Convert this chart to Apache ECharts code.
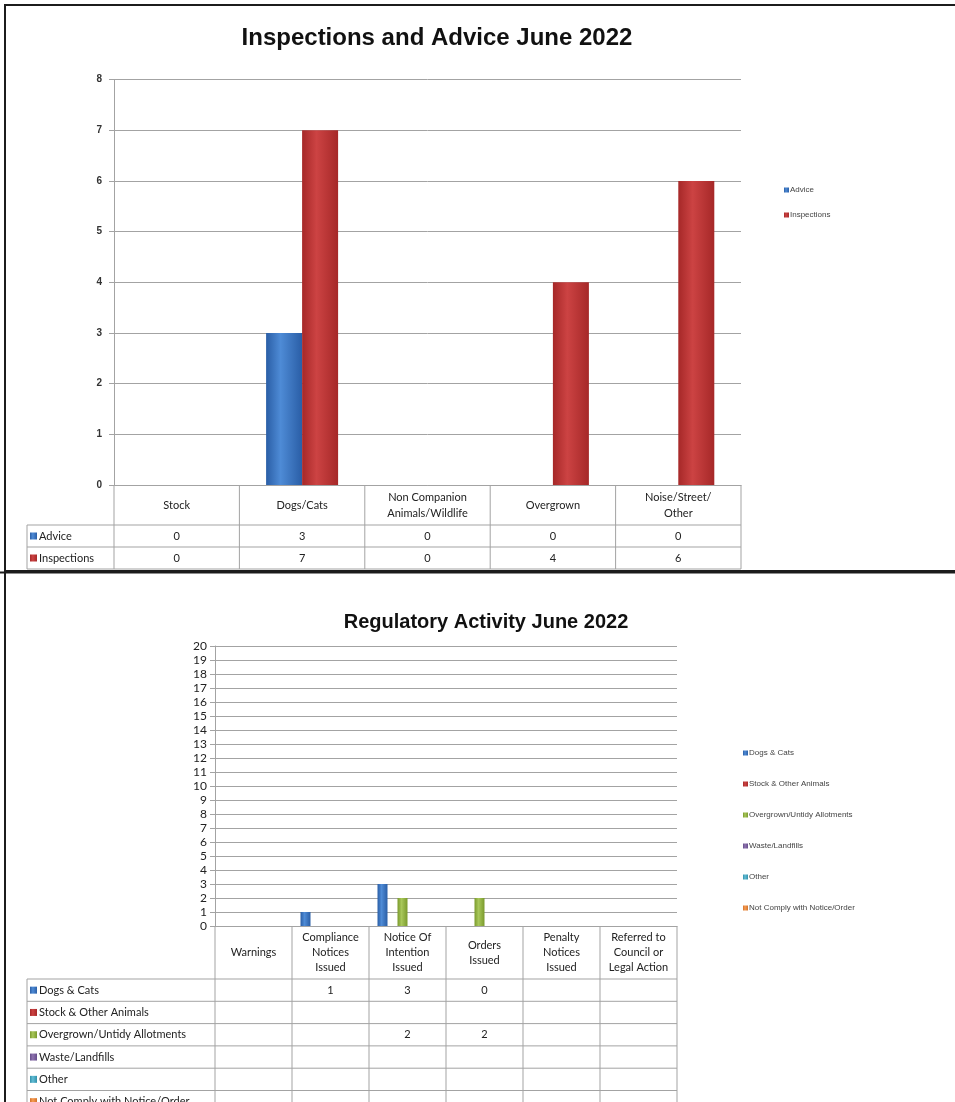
<!DOCTYPE html>
<html>
<head>
<meta charset="utf-8">
<title>Inspections and Regulatory Activity June 2022</title>
<script src="https://cdn.jsdelivr.net/npm/echarts@6/dist/echarts.min.js"></script>
<style>
  html, body { margin: 0; padding: 0; background: #fff; }
  #chart { width: 955px; height: 1102px; }
</style>
</head>
<body>
<div id="chart"></div>
<script>
// ---- top chart data ----
var inspCategories = ['Stock', 'Dogs/Cats', 'Non Companion\nAnimals/Wildlife', 'Overgrown', 'Noise/Street/\nOther'];
var adviceValues = [0, 3, 0, 0, 0];
var inspectionValues = [0, 7, 0, 4, 6];

// ---- bottom chart data (null = empty cell) ----
var regCategories = ['Warnings', 'Compliance\nNotices\nIssued', 'Notice Of\nIntention\nIssued', 'Orders\nIssued', 'Penalty\nNotices\nIssued', 'Referred to\nCouncil or\nLegal Action'];
var dogsCats = [null, 1, 3, 0, null, null];
var stockOther = [null, null, null, null, null, null];
var overgrownAllot = [null, null, 2, 2, null, null];
var wasteLandfills = [null, null, null, null, null, null];
var otherValues = [null, null, null, null, null, null];
var notComply = [null, null, null, null, null, null];

var chart = echarts.init(document.getElementById('chart'));

function barGrad(dark, light) {
  return new echarts.graphic.LinearGradient(0, 0, 1, 0, [
    { offset: 0, color: dark },
    { offset: 0.4, color: light },
    { offset: 1, color: dark }
  ]);
}

var colors = {
  blue: ['#2a5ea6', '#4e8bd6'],
  red: ['#a62828', '#cc4343'],
  green: ['#7a9a2c', '#a8c75a'],
  purple: ['#664d8a', '#8f74b0'],
  cyan: ['#3190aa', '#62bdd5'],
  orange: ['#d2722a', '#f79c52']
};

// layout of the two plot areas (px)
var g1 = { left: 114, top: 79.5, width: 627, height: 405.5 };
var g2 = { left: 215, top: 646, width: 462, height: 280 };
var lineCol = '#a3a3a3';
var tableFont = 'Lato, "Open Sans", sans-serif';

// data table under a plot, drawn as lines + text
function buildTable(g, cats, rows, headerH, rowH, labelLeft) {
  var els = [];
  var n = cats.length;
  var cw = g.width / n;
  var top = g.top + g.height;
  var hb = top + headerH;
  var bottom = hb + rowH * rows.length;
  var right = g.left + g.width;
  function line(x1, y1, x2, y2) {
    els.push({ type: 'line', silent: true, shape: { x1: x1, y1: y1, x2: x2, y2: y2 },
      style: { stroke: lineCol, lineWidth: 1 } });
  }
  for (var i = 0; i <= rows.length; i++) line(labelLeft, hb + i * rowH, right, hb + i * rowH);
  line(labelLeft, hb, labelLeft, bottom);
  for (var k = 0; k <= n; k++) line(g.left + k * cw, top, g.left + k * cw, bottom);
  rows.forEach(function (r, i) {
    var cy = hb + i * rowH + rowH / 2;
    els.push({ type: 'rect', silent: true, shape: { x: labelLeft + 3, y: cy - 3.5, width: 7, height: 7 },
      style: { fill: barGrad(r.color[0], r.color[1]) } });
    els.push({ type: 'text', silent: true, x: labelLeft + 12, y: cy,
      style: { text: r.name, fontFamily: tableFont, fontSize: 11, fill: '#222', verticalAlign: 'middle' } });
    r.values.forEach(function (v, k) {
      if (v === null) return;
      els.push({ type: 'text', silent: true, x: g.left + (k + 0.5) * cw, y: cy,
        style: { text: String(v), fontFamily: tableFont, fontSize: 11, fill: '#222', align: 'center', verticalAlign: 'middle' } });
    });
  });
  return els;
}

var topRows = [
  { name: 'Advice', values: adviceValues, color: colors.blue },
  { name: 'Inspections', values: inspectionValues, color: colors.red }
];
var bottomRows = [
  { name: 'Dogs & Cats', values: dogsCats, color: colors.blue },
  { name: 'Stock & Other Animals', values: stockOther, color: colors.red },
  { name: 'Overgrown/Untidy Allotments', values: overgrownAllot, color: colors.green },
  { name: 'Waste/Landfills', values: wasteLandfills, color: colors.purple },
  { name: 'Other', values: otherValues, color: colors.cyan },
  { name: 'Not Comply with Notice/Order', values: notComply, color: colors.orange }
];

var frame = [
  { type: 'rect', silent: true, shape: { x: 5, y: 5, width: 1000, height: 566 },
    style: { fill: 'none', stroke: '#1c1c1c', lineWidth: 2 } },
  { type: 'line', silent: true, shape: { x1: 0, y1: 572.5, x2: 955, y2: 572.5 },
    style: { stroke: '#1c1c1c', lineWidth: 2 } },
  { type: 'line', silent: true, shape: { x1: 5, y1: 571, x2: 5, y2: 1102 },
    style: { stroke: '#1c1c1c', lineWidth: 2 } }
];

var graphics = frame
  .concat(buildTable(g1, inspCategories, topRows, 40, 22, 27))
  .concat(buildTable(g2, regCategories, bottomRows, 53, 22.3, 27));

function yAxisCfg(idx, max, fontCfg) {
  return {
    type: 'value', gridIndex: idx, min: 0, max: max, interval: 1,
    axisLine: { show: true, lineStyle: { color: lineCol } },
    axisTick: { show: true, length: 5, lineStyle: { color: lineCol } },
    splitLine: { lineStyle: { color: lineCol, width: 1 } },
    axisLabel: fontCfg
  };
}

function xAxisCfg(idx, cats, margin, lh) {
  return {
    type: 'category', gridIndex: idx, data: cats,
    axisLine: { show: true, lineStyle: { color: lineCol } },
    axisTick: { show: false },
    axisLabel: { interval: 0, margin: margin, verticalAlign: 'middle', lineHeight: lh,
      fontFamily: tableFont, fontSize: 11, color: '#222' }
  };
}

function barSeries(name, data, col, xi, width) {
  return {
    name: name, type: 'bar', xAxisIndex: xi, yAxisIndex: xi, data: data,
    barWidth: width, barGap: '0%',
    itemStyle: { color: barGrad(col[0], col[1]) }
  };
}

var option = {
  animation: false,
  title: [
    { text: 'Inspections and Advice June 2022', left: 432, top: 21, textAlign: 'center',
      textStyle: { fontFamily: '"Liberation Sans", Arial', fontWeight: 'bold', fontSize: 24, color: '#111' } },
    { text: 'Regulatory Activity June 2022', left: 481, top: 607, textAlign: 'center',
      textStyle: { fontFamily: '"Liberation Sans", Arial', fontWeight: 'bold', fontSize: 20, color: '#111' } }
  ],
  legend: [
    { orient: 'vertical', left: 779, top: 180, itemWidth: 5, itemHeight: 5, itemGap: 15,
      icon: 'rect', data: ['Advice', 'Inspections'],
      textStyle: { fontFamily: '"Liberation Sans", Arial', fontSize: 8, color: '#444', lineHeight: 10, padding: [0, 0, 0, -4] } },
    { orient: 'vertical', left: 738, top: 743, itemWidth: 5, itemHeight: 5, itemGap: 21,
      icon: 'rect', data: bottomRows.map(function (r) { return r.name; }),
      textStyle: { fontFamily: '"Liberation Sans", Arial', fontSize: 8, color: '#444', lineHeight: 10, padding: [0, 0, 0, -4] } }
  ],
  grid: [
    { left: g1.left, top: g1.top, width: g1.width, height: g1.height },
    { left: g2.left, top: g2.top, width: g2.width, height: g2.height }
  ],
  xAxis: [
    xAxisCfg(0, inspCategories, 20, 16),
    xAxisCfg(1, regCategories, 26.5, 15)
  ],
  yAxis: [
    yAxisCfg(0, 8, { fontFamily: '"Liberation Sans", Arial', fontSize: 10, fontWeight: 'bold', color: '#333', margin: 12 }),
    yAxisCfg(1, 20, { fontFamily: tableFont, fontSize: 12, color: '#222', margin: 8 })
  ],
  series: [
    barSeries('Advice', adviceValues, colors.blue, 0, 36),
    barSeries('Inspections', inspectionValues, colors.red, 0, 36)
  ].concat(bottomRows.map(function (r) {
    return barSeries(r.name, r.values, r.color, 1, 10);
  })),
  graphic: graphics
};

chart.setOption(option);
</script>
</body>
</html>
